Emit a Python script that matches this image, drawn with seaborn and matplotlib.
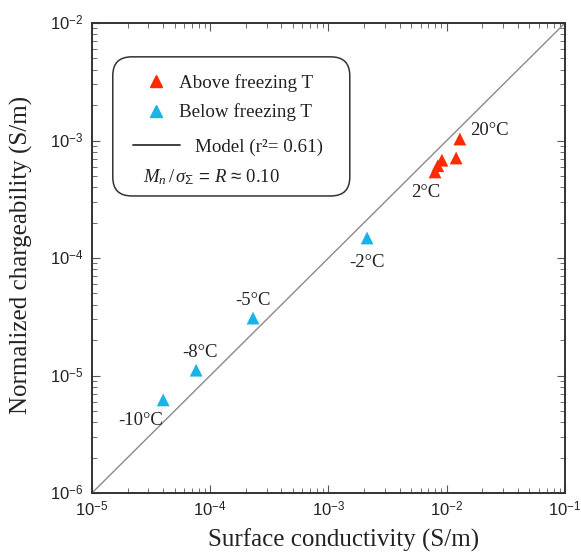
import numpy as np
import pandas as pd
import matplotlib
matplotlib.use("Agg")
import matplotlib.pyplot as plt
import seaborn as sns
from matplotlib.lines import Line2D
from matplotlib.patches import FancyBboxPatch
from matplotlib.ticker import LogLocator, FixedFormatter, NullFormatter

# ---- data ----
above_x = [0.0129, 0.0120, 0.0091, 0.0084, 0.00795]
above_y = [1.03e-3, 7.1e-4, 6.8e-4, 6.1e-4, 5.4e-4]
below_x = [4.0e-5, 7.6e-5, 2.3e-4, 2.12e-3]
below_y = [6.2e-6, 1.11e-5, 3.08e-5, 1.48e-4]
groups = ["Above freezing T", "Below freezing T"]
R = 0.10
model_x = [1e-5, 1e-1]
temp_labels = ["20°C", "2°C", "-2°C", "-5°C", "-8°C", "-10°C"]
temp_anchor_x = [0.0129, 0.00795, 2.12e-3, 2.3e-4, 7.6e-5, 4.0e-5]
temp_anchor_y = [1.03e-3, 5.4e-4, 1.48e-4, 3.08e-5, 1.11e-5, 6.2e-6]
tick_vals = [1e-5, 1e-4, 1e-3, 1e-2, 1e-1]
tick_labels_x = [r"$10^{-5}$", r"$10^{-4}$", r"$10^{-3}$", r"$10^{-2}$", r"$10^{-1}$"]
ytick_vals = [1e-6, 1e-5, 1e-4, 1e-3, 1e-2]
tick_labels_y = [r"$10^{-6}$", r"$10^{-5}$", r"$10^{-4}$", r"$10^{-3}$", r"$10^{-2}$"]

df = pd.DataFrame({
    "x": above_x + below_x,
    "y": above_y + below_y,
    "group": [groups[0]] * len(above_x) + [groups[1]] * len(below_x),
})

sns.set_style("ticks")
plt.rcParams["font.family"] = ["Liberation Serif", "DejaVu Serif"]
plt.rcParams["mathtext.fontset"] = "custom"
plt.rcParams["mathtext.rm"] = "Liberation Sans"
plt.rcParams["mathtext.sf"] = "Liberation Sans"
plt.rcParams["mathtext.it"] = "Liberation Serif:italic"
plt.rcParams["mathtext.tt"] = "Liberation Serif"
plt.rcParams["mathtext.bf"] = "Liberation Serif:bold"

RED = "#ff2a00"
BLUE = "#19b4e6"
TXT = "#222222"

fig = plt.figure(figsize=(5.81, 5.57), dpi=100)
ax = fig.add_axes([0.1583, 0.1149, 0.8142, 0.8438])

# model line
mx = np.array(model_x)
ax.plot(mx, R * mx, color="#8a8a8a", lw=1.0, zorder=1)

sns.scatterplot(data=df, x="x", y="y", hue="group", palette={groups[0]: RED, groups[1]: BLUE},
                marker="^", s=85, edgecolor="none", legend=False, ax=ax, zorder=3)

ax.set_xscale("log")
ax.set_yscale("log")
ax.set_xlim(1e-5, 1e-1)
ax.set_ylim(1e-6, 1e-2)

ax.set_xticks(tick_vals)
ax.xaxis.set_major_formatter(FixedFormatter(tick_labels_x))
ax.set_yticks(ytick_vals)
ax.yaxis.set_major_formatter(FixedFormatter(tick_labels_y))
ax.xaxis.set_minor_locator(LogLocator(base=10, subs=np.arange(2, 10)))
ax.yaxis.set_minor_locator(LogLocator(base=10, subs=np.arange(2, 10)))
ax.xaxis.set_minor_formatter(NullFormatter())
ax.yaxis.set_minor_formatter(NullFormatter())
ax.tick_params(which="both", direction="in", top=True, right=True, color="#555555")
ax.tick_params(which="major", length=6, width=0.8, labelsize=12, pad=6, labelcolor=TXT)
ax.tick_params(which="minor", length=3.5, width=0.6)
for s in ax.spines.values():
    s.set_linewidth(1.4)
    s.set_color("#333333")

ax.set_xlabel("Surface conductivity (S/m)", fontsize=18, color=TXT)
ax.set_ylabel("Normalized chargeability (S/m)", fontsize=18, color=TXT)
ax.xaxis.set_label_coords(0.531, -0.076)
ax.yaxis.set_label_coords(-0.124, 0.507)

# temperature labels
offsets = [(21, 6), (-7, -15), (0, -18), (0, 13), (3, 13), (-16, -15)]
for lab, xx, yy, off in zip(temp_labels, temp_anchor_x, temp_anchor_y, offsets):
    ax.annotate(lab, (xx, yy), xytext=off, textcoords="offset points",
                ha="center", va="center", fontsize=13.5, color=TXT)

# legend box
box = FancyBboxPatch((0.044, 0.632), 0.501, 0.296, transform=ax.transAxes,
                     boxstyle="round,pad=0,rounding_size=0.04", fc="white", ec="#333333", lw=1.1, zorder=4)
ax.add_patch(box)
mk_handles = [
    Line2D([], [], marker="^", color=RED, ls="none", markersize=9),
    Line2D([], [], marker="^", color=BLUE, ls="none", markersize=9),
]
leg1 = ax.legend(mk_handles, groups, loc="center left", bbox_to_anchor=(0.116, 0.841),
                 frameon=False, fontsize=13.7, handlelength=1.0, handletextpad=0.7,
                 labelspacing=0.6, borderpad=0, borderaxespad=0, labelcolor=TXT)
leg1.set_zorder(5)
ax.add_artist(leg1)
leg2 = ax.legend([Line2D([], [], color="#333333", lw=1.3)], ["Model (r²= 0.61)"], loc="center left",
                 bbox_to_anchor=(0.0867, 0.736), frameon=False, fontsize=13.7, handlelength=2.47,
                 handletextpad=0.8, borderpad=0, borderaxespad=0, labelcolor=TXT)
leg2.set_zorder(5)
ax.text(0.108, 0.672, r"$M_n\,\mathtt{/}\,\sigma_{\Sigma}\,=\,R\,\approx\,\mathtt{0.10}$", transform=ax.transAxes,
        fontsize=13.5, va="center", ha="left", zorder=6, color=TXT)

fig.savefig("out.png", dpi=100)
